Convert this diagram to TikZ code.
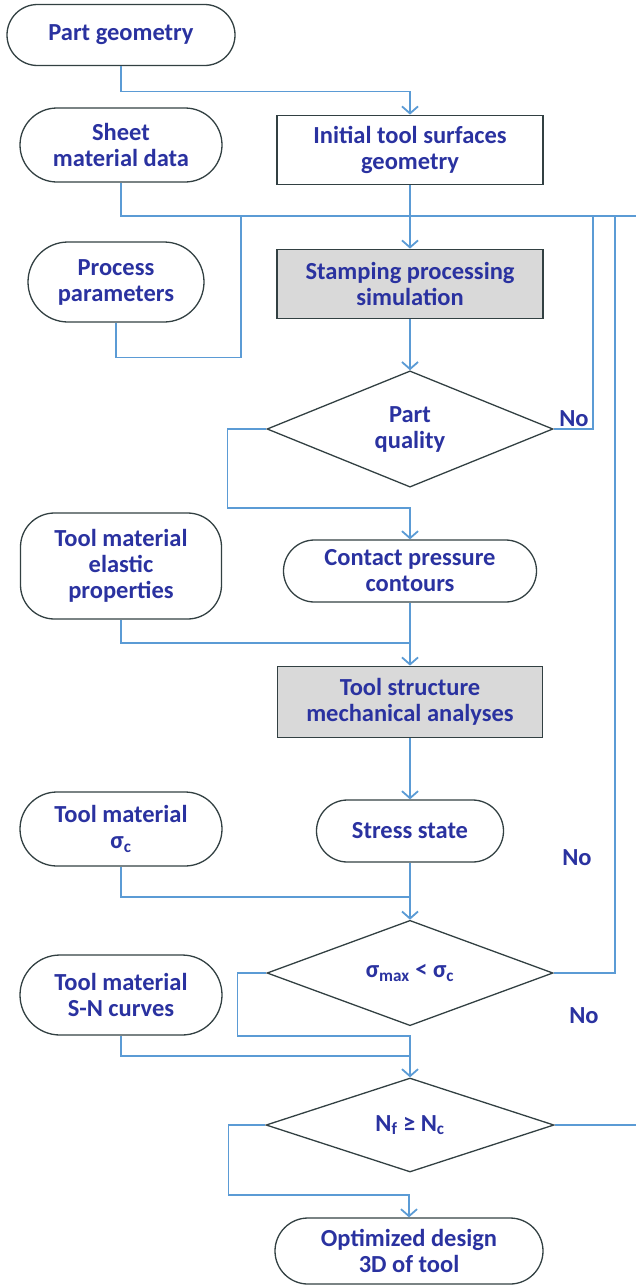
\documentclass[tikz,border=0pt]{standalone}
\usepackage{fontspec}
\setmainfont{Carlito}
\usetikzlibrary{shapes.geometric,shapes.misc,arrows.meta}
\definecolor{flowblue}{RGB}{91,155,213}
\definecolor{txtblue}{RGB}{42,50,160}
\definecolor{edge}{RGB}{50,64,66}
\definecolor{boxgray}{RGB}{217,217,217}
\begin{document}
\begin{tikzpicture}[x=1pt, y=-1pt,
  font=\fontsize{24.5}{26}\selectfont\bfseries, text=txtblue,
  term/.style={draw=edge, line width=1.3pt, rounded rectangle, inner sep=0pt, align=center},
  box/.style={draw=edge, line width=1.8pt, rectangle, inner sep=0pt, align=center},
  dec/.style={draw=edge, line width=1.3pt, diamond, inner sep=0pt, align=center},
  conn/.style={flowblue, line width=1.2pt},
  >={Straight Barb[length=7pt,width=16pt,line width=1.8pt]}]
\useasboundingbox (0,0) rectangle (636,1285);

% left column: data
\node[term, minimum width=228, minimum height=61] (pg) at (121,35) {Part geometry};
\node[term, minimum width=202, minimum height=74] (sheet) at (121,145) {Sheet\\material data};
\node[term, minimum width=176, minimum height=80] (proc) at (116,282) {Process\\parameters};
\node[term, shape=rectangle, rounded corners=34pt, minimum width=201, minimum height=106] (elas) at (121,566) {Tool material\\elastic\\properties};
\node[term, minimum width=202, minimum height=74] (sigc) at (121,829) {Tool material\\σ\textsubscript{c}};
\node[term, minimum width=202, minimum height=80] (sn) at (121,995) {Tool material\\S-N curves};

% main column
\node[box, minimum width=266, minimum height=69] (init) at (410,150) {Initial tool surfaces\\geometry};
\node[box, fill=boxgray, minimum width=266, minimum height=69] (stamp) at (410,284) {Stamping processing\\simulation};
\node[dec, minimum width=286, minimum height=92] (pq) at (410,429) {Part\\quality};
\node[term, minimum width=253, minimum height=62] (cont) at (410,571) {Contact pressure\\contours};
\node[box, fill=boxgray, minimum width=265, minimum height=71] (ts) at (410,702) {Tool structure\\mechanical analyses};
\node[term, minimum width=187, minimum height=62] (stress) at (410,831) {Stress state};
\node[dec, minimum width=286, minimum height=92] (sd) at (410,973) {σ\textsubscript{max} < σ\textsubscript{c}};
\node[dec, minimum width=288, minimum height=94] (nd) at (410,1125) {N\textsubscript{f} ≥ N\textsubscript{c}};
\node[term, minimum width=268, minimum height=66] (opt) at (409,1251) {Optimized design\\3D of tool};

\node (no1) at (574,419) {No};
\node (no2) at (577,858) {No};
\node (no3) at (584,1016) {No};

\coordinate (redge) at (636,216);
\coordinate (redge2) at (636,1125);
\coordinate (j1) at (241,216);
\coordinate (j2) at (593,216);
\coordinate (j3) at (615,216);
\coordinate (m1) at (410,643);
\coordinate (m2) at (410,897);
\coordinate (m3) at (410,1056);

% connectors
\draw[conn,->] (pg.south) -- ++(0,25) -| (init.north);
\draw[conn] (sheet.south) |- (redge);
\draw[conn] (proc.south) -- ++(0,35) -| (j1);
\draw[conn,->] (init.south) -- (stamp.north);
\draw[conn,->] (stamp.south) -- (pq.north);
\draw[conn] (pq.east) -| (j2);
\draw[conn,->] (pq.west) -- ++(-39,0) -- ++(0,79) -| (cont.north);
\draw[conn] (elas.south) |- (m1);
\draw[conn,->] (cont.south) -- (ts.north);
\draw[conn,->] (ts.south) -- (stress.north);
\draw[conn] (sigc.south) |- (m2);
\draw[conn,->] (stress.south) -- (sd.north);
\draw[conn] (sd.east) -| (j3);
\draw[conn,->] (sd.west) -- ++(-29,0) -- ++(0,63) -| (nd.north);
\draw[conn] (sn.south) |- (m3);
\draw[conn] (nd.east) -- (redge2);
\draw[conn,->] (nd.west) -- ++(-37,0) -- ++(0,70) -| (opt.north);
\end{tikzpicture}
\end{document}
